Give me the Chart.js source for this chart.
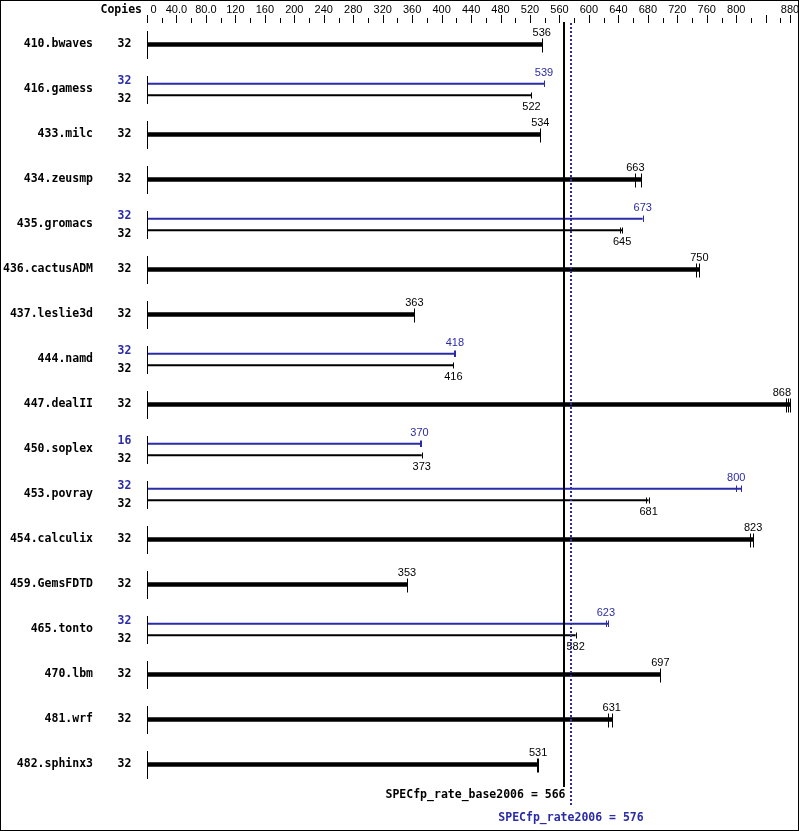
<!DOCTYPE html>
<html lang="en">
<head>
<meta charset="UTF-8"/>
<title>SPECfp_rate2006</title>
<script src="https://cdn.jsdelivr.net/npm/chart.js@4/dist/chart.umd.min.js"></script>
<style>
  *{margin:0;padding:0}
  body{background:#fff}
  #box{width:797px;height:829px;border:1px solid #000}
  canvas{display:block}
</style>
</head>
<body>
<div id="box"><canvas id="c" width="797" height="829"></canvas></div>
<script>
// benchmarks, copies and ratios (base = black, peak = blue)
const benchmarks = ['410.bwaves','416.gamess','433.milc','434.zeusmp','435.gromacs','436.cactusADM',
  '437.leslie3d','444.namd','447.dealII','450.soplex','453.povray','454.calculix','459.GemsFDTD',
  '465.tonto','470.lbm','481.wrf','482.sphinx3'];
const copiesBase = [32,32,32,32,32,32,32,32,32,32,32,32,32,32,32,32,32];
const copiesPeak = [null,32,null,null,32,null,null,32,null,16,32,null,null,32,null,null,null];
const baseRatio  = [536,522,534,663,645,750,363,416,868,373,681,823,353,582,697,631,531];
const peakRatio  = [null,539,null,null,673,null,null,418,null,370,800,null,null,623,null,null,null];
// other runs (extra tick marks)
const baseRuns = [[],[],[],[671],[642],[746],[],[],[870.5,872.5],[],[678],[819],[],[],[],[626],[529]];
const peakRuns = [[],[],[],[],[],[],[],[416.5],[],[371.5],[807],[],[],[626],[],[],[]];
// top axis
const axisMax    = 873;
const tickValues = [0,40,80,120,160,200,240,280,320,360,400,440,480,520,560,600,640,680,720,760,800,873];
const tickLabels = ['0','40.0','80.0','120','160','200','240','280','320','360','400','440','480',
  '520','560','600','640','680','720','760','800','880'];
const baseMean = 566, peakMean = 576;

const BLUE = '#2b2ba8';
const mono = 'bold 11.5px "DejaVu Sans Mono", monospace';
const sans = '11px "Liberation Sans", Arial, sans-serif';

const split  = peakRatio.map(v => v !== null);
const barEnd = (v, runs) => Math.max(v, ...runs);
const sameData = baseRatio.map((v,i) => split[i] ? null : barEnd(v, baseRuns[i]));
const peakData = peakRatio.map((v,i) => v === null ? null : barEnd(v, peakRuns[i]));
const baseData = baseRatio.map((v,i) => split[i] ? barEnd(v, baseRuns[i]) : null);

const specPlugin = {
  id: 'spec',
  afterDatasetsDraw(chart) {
    const {ctx, chartArea: a, scales: {x, y}} = chart;
    const px = v => Math.round(x.getPixelForValue(v)) + 0.5;
    const vline = (xx, y0, y1, color, w) => {
      ctx.strokeStyle = color; ctx.lineWidth = w;
      ctx.beginPath(); ctx.moveTo(xx, y0); ctx.lineTo(xx, y1); ctx.stroke();
    };
    const text = (t, xx, yy, color, font, align) => {
      ctx.fillStyle = color; ctx.font = font; ctx.textAlign = align; ctx.textBaseline = 'middle';
      ctx.fillText(t, xx, yy);
    };
    const valueLabel = (v, yy, color) => {
      ctx.font = sans;
      const w = ctx.measureText(String(v)).width;
      const cx = Math.min(x.getPixelForValue(v), a.right + 1 - w / 2);
      text(String(v), cx, yy, color, sans, 'center');
    };
    ctx.save();

    // top axis: minor ticks every 20, labelled ticks
    for (let v = 0; v < axisMax; v += 20) vline(px(v), v % 40 ? 17 : 14, 22, '#000', 1);
    vline(px(axisMax), 14, 22, '#000', 1);
    tickValues.forEach((v, k) => {
      if (v === 0) text(tickLabels[k], px(v) + 3, 9, '#000', sans, 'left');
      else text(tickLabels[k], x.getPixelForValue(v), 9, '#000', sans, 'center');
    });
    text('Copies', 141, 9, '#000', mono, 'right');

    benchmarks.forEach((name, i) => {
      const yc = y.getPixelForValue(i);
      text(name, 92, yc, '#000', mono, 'right');
      vline(a.left + 0.5, yc - 13.5, yc + 14.5, '#000', 1);
      if (!split[i]) {
        text(String(copiesBase[i]), 123.5, yc, '#000', mono, 'center');
        [baseRatio[i], ...baseRuns[i]].forEach(v => vline(px(v), yc - 6, yc + 8, '#000', 1));
        valueLabel(baseRatio[i], yc - 12, '#000');
      } else {
        text(String(copiesPeak[i]), 123.5, yc - 8.5, BLUE, mono, 'center');
        text(String(copiesBase[i]), 123.5, yc + 10, '#000', mono, 'center');
        [peakRatio[i], ...peakRuns[i]].forEach(v => vline(px(v), yc - 9, yc - 2.5, BLUE, 1));
        [baseRatio[i], ...baseRuns[i]].forEach(v => vline(px(v), yc + 3, yc + 9, '#000', 1));
        valueLabel(peakRatio[i], yc - 16.5, BLUE);
        valueLabel(baseRatio[i], yc + 17, '#000');
      }
    });

    // overall means
    const bx = Math.round(x.getPixelForValue(baseMean));
    vline(bx, a.top, a.bottom, '#000', 2);
    const pxm = Math.round(x.getPixelForValue(peakMean));
    ctx.setLineDash([2, 2]);
    vline(pxm, a.top + 1, a.bottom + 20, BLUE, 2);
    ctx.setLineDash([]);
    text('SPECfp_rate_base2006 = ' + baseMean, bx + 1.5, a.bottom + 8, '#000', mono, 'right');
    text('SPECfp_rate2006 = ' + peakMean, pxm, a.bottom + 31, BLUE, mono, 'center');
    ctx.restore();
  }
};

new Chart(document.getElementById('c'), {
  type: 'bar',
  data: {
    labels: benchmarks,
    datasets: [
      {label: 'base=peak', data: sameData, backgroundColor: '#000', grouped: false, barThickness: 4, maxBarThickness: 4},
      {label: 'peak', data: peakData, backgroundColor: BLUE, categoryPercentage: 0.511, maxBarThickness: 2},
      {label: 'base', data: baseData, backgroundColor: '#000', categoryPercentage: 0.511, maxBarThickness: 2},
    ]
  },
  options: {
    indexAxis: 'y',
    responsive: false,
    animation: false,
    layout: {padding: {left: 146, right: 8, top: 21, bottom: 43}},
    plugins: {legend: {display: false}, tooltip: {enabled: false}},
    scales: {
      x: {type: 'linear', min: 0, max: axisMax, display: false},
      y: {type: 'category', offset: true, display: false}
    }
  },
  plugins: [specPlugin]
});
</script>
</body>
</html>
